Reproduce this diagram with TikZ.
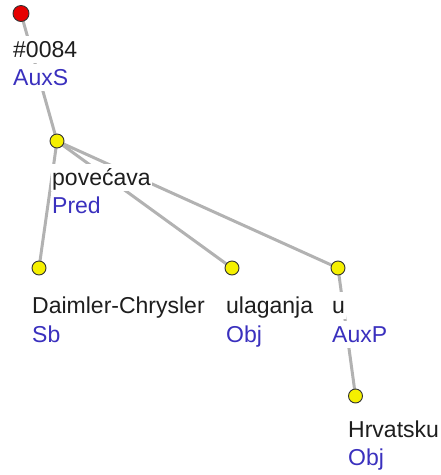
\documentclass[tikz,border=0pt]{standalone}
\usepackage{fontspec}
\setmainfont{Liberation Sans}
\usetikzlibrary{backgrounds}
\definecolor{edgegray}{RGB}{178,178,178}
\definecolor{lblblue}{RGB}{58,48,190}
\definecolor{nodeyellow}{RGB}{245,240,0}
\definecolor{nodered}{RGB}{230,0,0}
\definecolor{wordcol}{RGB}{30,30,30}
\tikzset{
  treenode/.style={circle, draw=black!80, line width=0.9pt, fill=nodeyellow, minimum size=14pt, inner sep=0pt},
  rootnode/.style={treenode, fill=nodered, minimum size=16pt},
  word/.style={anchor=base west, fill=white, inner sep=1pt, text height=20pt, text depth=5pt, text=wordcol, font=\fontsize{23}{28}\selectfont},
  func/.style={word, text=lblblue},
  edge/.style={draw=edgegray, line width=3pt, line cap=round}
}
\begin{document}
\begin{tikzpicture}[x=1pt,y=-1pt]
\useasboundingbox (0,0) rectangle (441,475);
% tree nodes
\node[rootnode] (root) at (21,13.5) {};
\node[treenode] (pred) at (57,141) {};
\node[treenode] (sb) at (39,268) {};
\node[treenode] (obja) at (232,268) {};
\node[treenode] (auxp) at (338,268) {};
\node[treenode] (objb) at (355.5,396) {};
% labels
\node[word] (w0) at (12,57) {\#0084};
\node[func] (f0) at (12,85) {AuxS};
\node[word] (w1) at (51,185) {povećava};
\node[func] (f1) at (51,213) {Pred};
\node[word] (w2) at (31,313) {Daimler-Chrysler};
\node[func] (f2) at (31,342) {Sb};
\node[word] (w3) at (225,313) {ulaganja};
\node[func] (f3) at (225,342) {Obj};
\node[word] (w4) at (331,313) {u};
\node[func] (f4) at (331,342) {AuxP};
\node[word] (w5) at (347,437) {Hrvatsku};
\node[func] (f5) at (347,465) {Obj};
% edges
\begin{pgfonlayer}{background}
\draw[edge] (root.center) -- (pred.center);
\draw[edge] (pred.center) -- (sb.center);
\draw[edge] (pred.center) -- (obja.center);
\draw[edge] (pred.center) -- (auxp.center);
\draw[edge] (auxp.center) -- (objb.center);
\end{pgfonlayer}
\end{tikzpicture}
\end{document}
